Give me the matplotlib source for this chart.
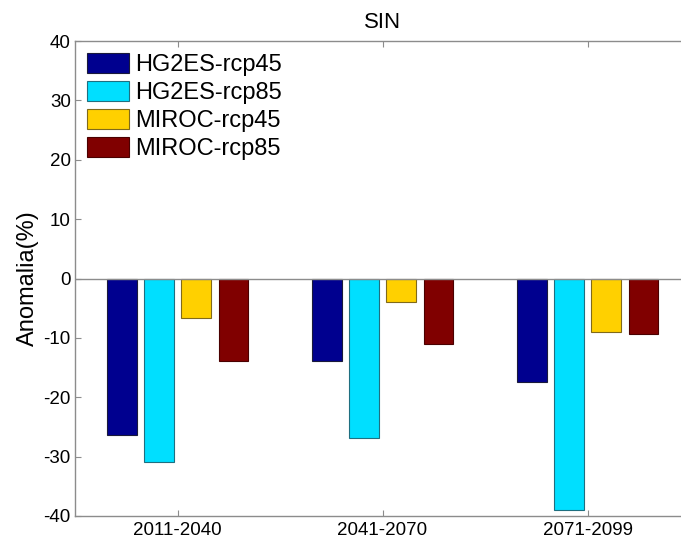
import matplotlib
matplotlib.use("Agg")
import matplotlib.pyplot as plt
import numpy as np

plt.rcParams['font.family'] = ['Liberation Sans', 'DejaVu Sans']

periods = ["2011-2040", "2041-2070", "2071-2099"]
series_names = ["HG2ES-rcp45", "HG2ES-rcp85", "MIROC-rcp45", "MIROC-rcp85"]
hg2es_rcp45 = [-26.4, -13.9, -17.5]
hg2es_rcp85 = [-30.9, -26.9, -39.0]
miroc_rcp45 = [-6.7, -3.9, -9.0]
miroc_rcp85 = [-13.9, -11.1, -9.3]
yticks = [-40, -30, -20, -10, 0, 10, 20, 30, 40]

colors = ["#00008F", "#00DFFF", "#FFD000", "#800000"]
edges = ["#1a1a3a", "#1f6f80", "#806a1a", "#4a0000"]
axis_gray = "#8c8c8c"

fig = plt.figure(figsize=(6.81, 5.42), dpi=100)
# axes run past the right edge of the canvas, so the right side is cut off
ax = fig.add_axes([75 / 681, 26 / 542, 615 / 681, 475 / 542])

x = np.arange(1, len(periods) + 1)
group_w = 4 / 5.5
slot = group_w / 4
bar_w = slot * 0.8
data = [hg2es_rcp45, hg2es_rcp85, miroc_rcp45, miroc_rcp85]
for i, vals in enumerate(data):
    offs = (i - 1.5) * slot
    ax.bar(x + offs, vals, bar_w, color=colors[i], edgecolor=edges[i],
           linewidth=0.8, label=series_names[i], zorder=2)

ax.axhline(0, color=axis_gray, linewidth=1.0, zorder=3)

ax.set_xlim(0.5, 3.5)
ax.set_ylim(-40, 40)
ax.set_yticks(yticks)
ax.set_yticklabels([str(v) for v in yticks])
ax.set_xticks(x)
ax.set_xticklabels(periods)
ax.tick_params(direction="in", length=4, width=0.8, color=axis_gray,
               labelsize=13.5, top=True, pad=4)
ax.tick_params(axis="y", pad=3)
for s in ax.spines.values():
    s.set_color(axis_gray)
    s.set_linewidth(1.0)
ax.spines["right"].set_visible(False)

ax.set_title("SIN", fontsize=16, pad=9)
ax.set_ylabel("Anomalia(%)", fontsize=17, labelpad=3)

ax.legend(loc="upper left", frameon=False, fontsize=17, borderpad=0,
          borderaxespad=0.5, handlelength=1.8, handleheight=0.95,
          labelspacing=0.2, handletextpad=0.25)

fig.savefig("out.png", dpi=100)
